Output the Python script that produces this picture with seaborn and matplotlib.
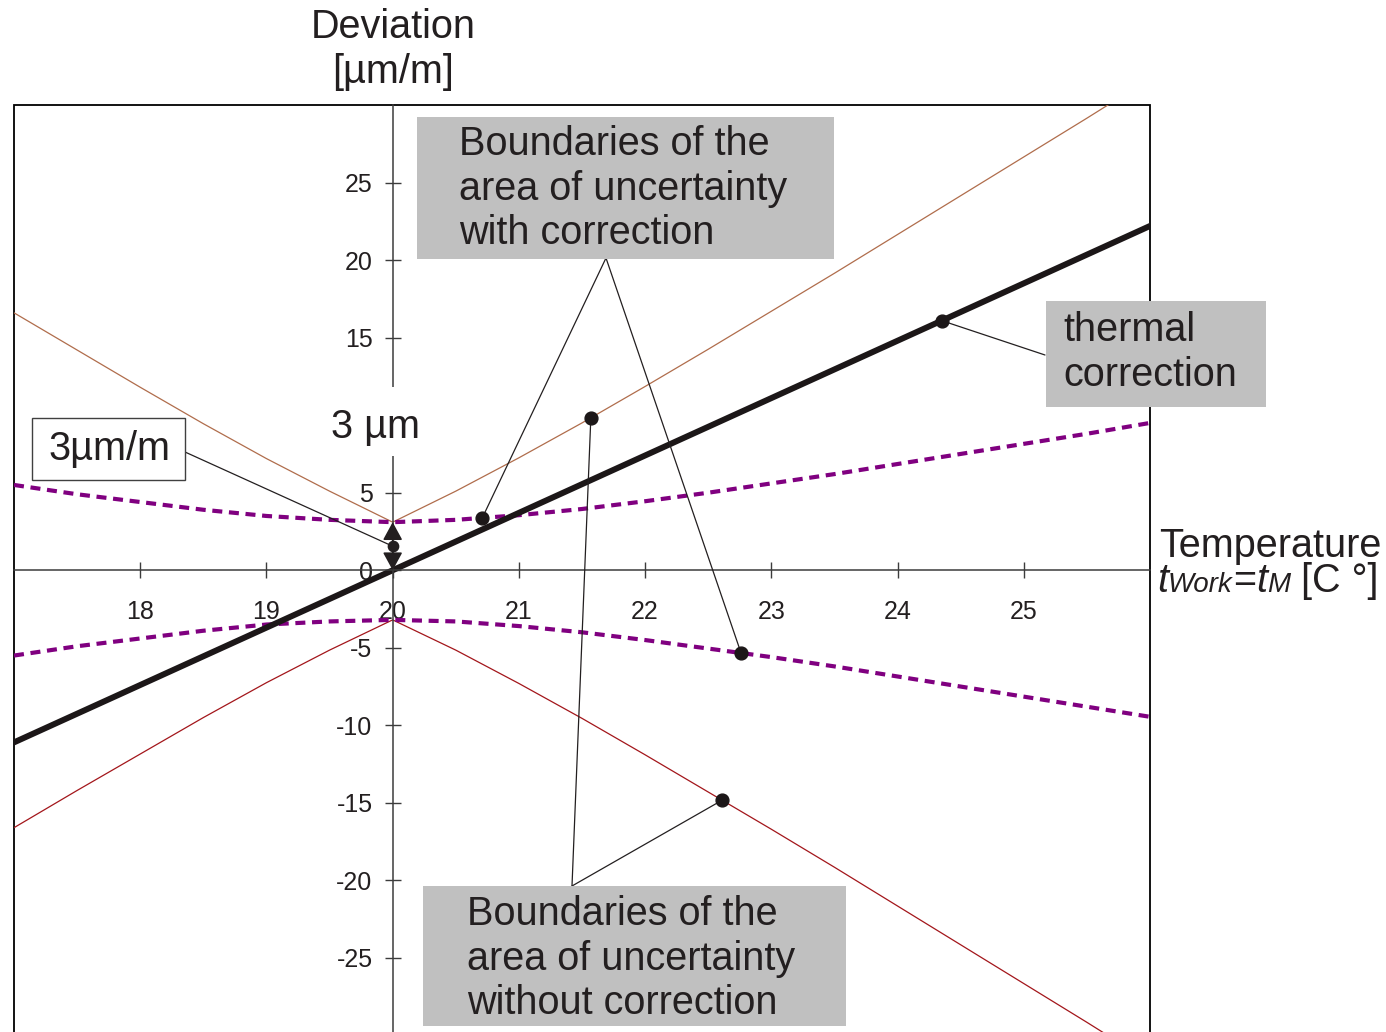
import numpy as np
import pandas as pd
import matplotlib
matplotlib.use('Agg')
import matplotlib.pyplot as plt
from matplotlib.patches import Rectangle
import seaborn as sns

sns.set_theme(style='white')
plt.rcParams['font.family'] = ['Liberation Sans', 'DejaVu Sans']
plt.rcParams['axes.unicode_minus'] = False

W, H = 1386, 1032

# values: deviation [µm/m] against temperature [°C]
temp = [17, 17.5, 18, 18.5, 19, 19.5, 20, 20.5, 21, 21.5, 22, 22.5, 23, 23.5,
        24, 24.5, 25, 25.5, 26]
thermal = [-11.1, -9.25, -7.4, -5.55, -3.7, -1.85, 0, 1.85, 3.7, 5.55, 7.4,
           9.25, 11.1, 12.95, 14.8, 16.65, 18.5, 20.35, 22.2]
with_corr_up = [5.5, 4.9, 4.4, 3.9, 3.5, 3.25, 3.1, 3.25, 3.55, 3.95, 4.45,
                5.0, 5.6, 6.2, 6.85, 7.5, 8.15, 8.8, 9.5]
with_corr_lo = [-5.5, -4.9, -4.4, -3.9, -3.5, -3.3, -3.2, -3.3, -3.6, -4.0,
                -4.5, -5.05, -5.6, -6.2, -6.85, -7.5, -8.15, -8.8, -9.45]
without_corr_up = [16.6, 14.2, 11.8, 9.45, 7.2, 5.1, 3.1, 5.1, 7.25, 9.5,
                   11.85, 14.25, 16.7, 19.15, 21.65, 24.15, 26.65, 29.15, 31.7]
without_corr_lo = [-16.6, -14.2, -11.85, -9.5, -7.25, -5.15, -3.2, -5.15,
                   -7.3, -9.55, -11.9, -14.3, -16.7, -19.15, -21.65, -24.15,
                   -26.65, -29.15, -31.7]

x_ticks = [18, 19, 20, 21, 22, 23, 24, 25]
y_ticks = [-25, -20, -15, -10, -5, 0, 5, 10, 15, 20, 25]
# the 10 label sits under the "3 µm" note in the original
y_labels = ['-25', '-20', '-15', '-10', '-5', '0', '5', '', '15', '20', '25']

# temperatures where the callouts touch the curves
pick_thermal = 24.35
pick_with_up = 20.71
pick_with_lo = 22.76
pick_without_up = 21.57
pick_without_lo = 22.61

TEXT = '#231f20'
AXIS = '#3c3c3c'
FS = 28.5


def fx(px):
    return px / W


def fy(py):
    return 1 - py / H


def fig_box(x0, y0, x1, y1, face, edge='none', lw=0):
    fig.add_artist(Rectangle((fx(x0), fy(y1)), fx(x1) - fx(x0), fy(y0) - fy(y1),
                             transform=fig.transFigure, facecolor=face,
                             edgecolor=edge, linewidth=lw))


def fig_lines(lines, x, y0, step, **kw):
    for i, s in enumerate(lines):
        fig.text(fx(x), fy(y0 + i * step), s, fontsize=FS, color=TEXT,
                 va='baseline', ha='left', **kw)


def leader(px, py, t, y):
    ax.annotate('', xy=(t, y), xycoords='data',
                xytext=(fx(px), fy(py)), textcoords='figure fraction',
                arrowprops=dict(arrowstyle='-', color=TEXT, lw=0.9,
                                shrinkA=0, shrinkB=0))


df = pd.DataFrame({'temp': temp, 'thermal': thermal,
                   'with_up': with_corr_up, 'with_lo': with_corr_lo,
                   'without_up': without_corr_up, 'without_lo': without_corr_lo})

fig = plt.figure(figsize=(W / 100, H / 100), dpi=100)
ax = fig.add_axes([fx(14), fy(1035.5), (1150 - 14) / W, (1035.5 - 105) / H])
ax.set_xlim(17, 26)
ax.set_ylim(-30, 30)

# curves
sns.lineplot(data=df, x='temp', y='without_up', color='#b06d4c', lw=0.9, ax=ax)
sns.lineplot(data=df, x='temp', y='without_lo', color='#a3161b', lw=0.9, ax=ax)
sns.lineplot(data=df, x='temp', y='with_up', color='#800080', lw=3.0,
             linestyle=(0, (2.4, 1.6)), ax=ax)
sns.lineplot(data=df, x='temp', y='with_lo', color='#800080', lw=3.0,
             linestyle=(0, (2.4, 1.6)), ax=ax)
sns.lineplot(data=df, x='temp', y='thermal', color='#1c1718', lw=4.3, ax=ax)
ax.set_xlabel('')
ax.set_ylabel('')

# axes through (20, 0), with a frame around the plot
for side in ['top', 'right']:
    ax.spines[side].set_visible(False)
ax.spines['left'].set_position(('data', 20))
ax.spines['bottom'].set_position(('data', 0))
for side in ['left', 'bottom']:
    ax.spines[side].set_color(AXIS)
    ax.spines[side].set_linewidth(1.1)
ax.add_patch(Rectangle((0, 0), 1, 1, transform=ax.transAxes, fill=False,
                       edgecolor='black', lw=1.3, clip_on=False))
ax.set_xticks(x_ticks)
ax.set_yticks(y_ticks)
ax.set_yticklabels(y_labels)
ax.tick_params(axis='both', bottom=True, left=True, direction='inout',
               length=11, width=1.0, color=AXIS, labelsize=18,
               labelcolor=TEXT)
ax.tick_params(axis='x', pad=16)
ax.tick_params(axis='y', pad=9)

# callout points
picks = [pick_thermal, pick_with_up, pick_with_lo, pick_without_up, pick_without_lo]
cols = ['thermal', 'with_up', 'with_lo', 'without_up', 'without_lo']
pts_t = np.array(picks)
pts_y = np.array([np.interp(t, temp, df[c]) for t, c in zip(picks, cols)])
ax.scatter(pts_t, pts_y, s=85, color='#1c1718', zorder=5)

# 3 µm/m span at 20 °C
top20 = np.interp(20, temp, with_corr_up)
base20 = np.interp(20, temp, thermal)
mid20 = (top20 + base20) / 2
ax.annotate('', xy=(20, top20), xytext=(20, base20),
            arrowprops=dict(arrowstyle='<|-|>,head_length=0.55,head_width=0.3',
                            mutation_scale=20, color=TEXT, lw=1.2,
                            shrinkA=0, shrinkB=0), zorder=6)
ax.scatter([20], [mid20], s=55, color=TEXT, zorder=7)

# leader lines from the labels
leader(606, 258, pick_with_up, pts_y[1])
leader(606, 258, pick_with_lo, pts_y[2])
leader(572, 886, pick_without_up, pts_y[3])
leader(572, 886, pick_without_lo, pts_y[4])
leader(1045, 355, pick_thermal, pts_y[0])
leader(185, 452, 20, mid20)

# label boxes
fig_box(417, 117, 834, 259, '#c0c0c0')
fig_lines(['Boundaries of the', 'area of uncertainty', 'with correction'],
          459, 155, 44.5)
fig_box(423, 886, 846, 1026, '#c0c0c0')
fig_lines(['Boundaries of the', 'area of uncertainty', 'without correction'],
          467, 925, 44.5)
fig_box(1046, 301, 1266, 407, '#c0c0c0')
fig_lines(['thermal', 'correction'], 1063, 341, 45)
fig_box(32, 418, 185, 480, 'white', edge='#404040', lw=1.0)
fig_lines(['3µm/m'], 48, 460, 0)
fig_box(325, 387, 430, 456, 'white')
fig_lines(['3 µm'], 331, 438, 0)

# axis titles
fig.text(fx(393), fy(38), 'Deviation', fontsize=FS, color=TEXT,
         ha='center', va='baseline')
fig.text(fx(393), fy(83), '[µm/m]', fontsize=FS, color=TEXT,
         ha='center', va='baseline')
fig.text(fx(1270), fy(557), 'Temperature', fontsize=FS, color=TEXT,
         ha='center', va='baseline')

# t_Work = t_M [C°], small subscripts kept on the baseline
SMALL = 20
first = fig.text(fx(1157), fy(592), 't', fontsize=FS, style='italic',
                 color=TEXT, ha='left', va='baseline')
parts = [('Work', SMALL, 'italic'), ('=', FS, 'normal'), ('t', FS, 'italic'),
         ('M', SMALL, 'italic'), (' [C °]', FS, 'normal')]
prev = first
for s, size, style in parts:
    lift = 0.21 * (FS - size)
    prev = ax.annotate(s, xy=(1, 0), xycoords=(prev, first),
                       xytext=(0, lift), textcoords='offset points',
                       fontsize=size, style=style, color=TEXT,
                       ha='left', va='bottom', annotation_clip=False)

fig.savefig('out.png', dpi=100)
